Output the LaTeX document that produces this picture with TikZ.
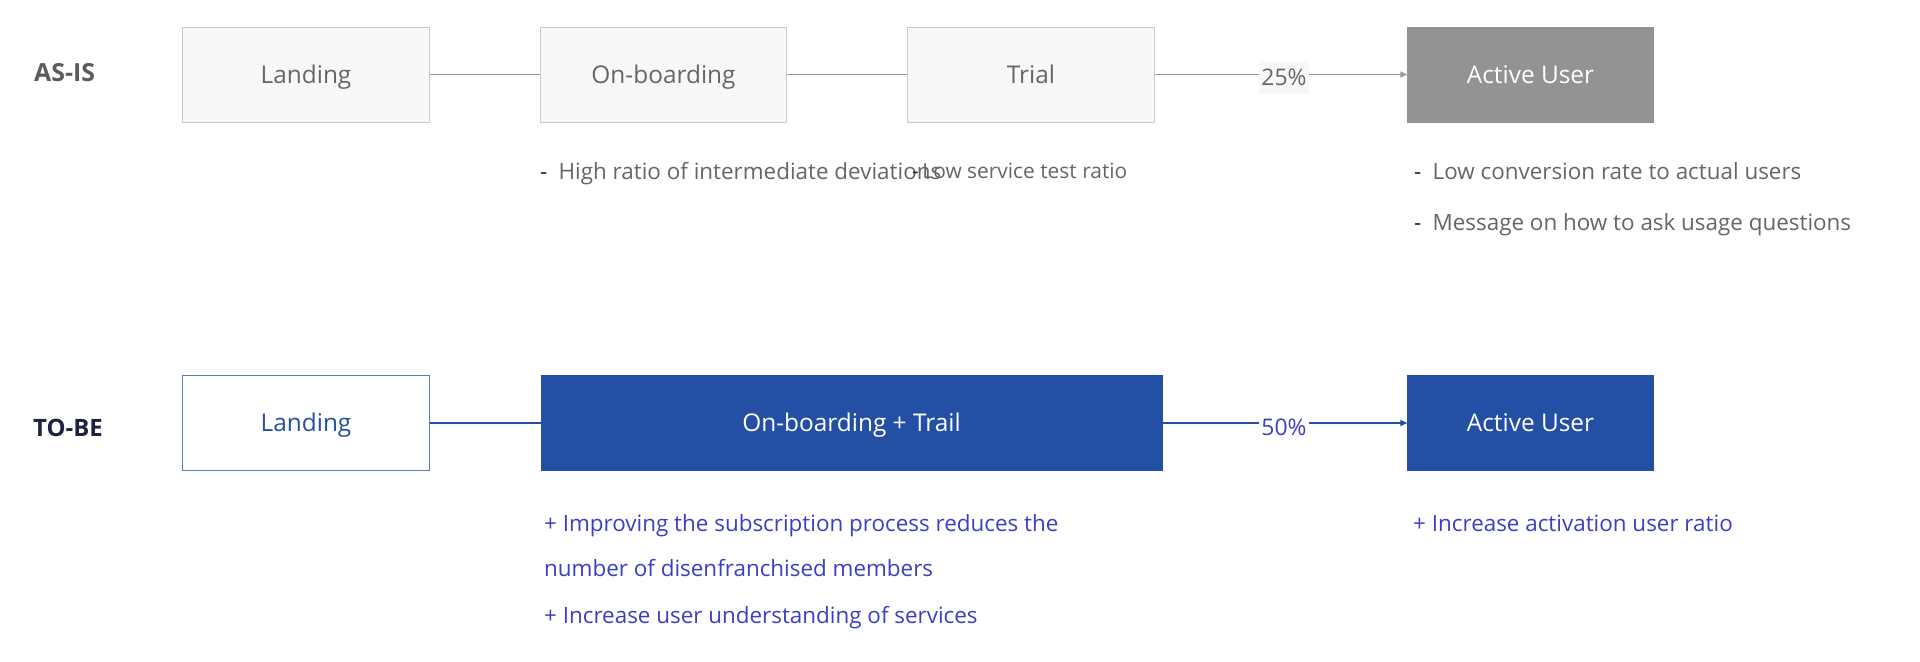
\documentclass[tikz,border=0pt]{standalone}
\usepackage{fontspec}
\setmainfont{Open Sans}
\usetikzlibrary{arrows.meta}
\definecolor{boxfill}{HTML}{F8F8F8}
\definecolor{boxline}{HTML}{C9C9C9}
\definecolor{grayuser}{HTML}{939393}
\definecolor{grayline}{HTML}{9A9A9A}
\definecolor{graytext}{HTML}{666666}
\definecolor{tobeblue}{HTML}{2350A5}
\definecolor{noteblue}{HTML}{3A40C4}
\definecolor{navy}{HTML}{1C2340}
\tikzset{
  asis/.style={draw=boxline,fill=boxfill,text=graytext,minimum height=95,inner sep=0,
    text height=17.5bp,text depth=0bp,font=\fontsize{24.5}{29}\selectfont},
  tobe/.style={draw=tobeblue,fill=tobeblue,text=white,minimum height=95,inner sep=0,
    text height=17.5bp,text depth=0bp,font=\fontsize{24.5}{29}\selectfont},
  rowlabel/.style={anchor=west,inner sep=0,font=\fontsize{25}{30}\selectfont\bfseries},
  note/.style={anchor=base west,inner sep=0,font=\fontsize{22.5}{27}\selectfont},
  pct/.style={inner sep=2,font=\fontsize{23}{27}\selectfont},
}
\begin{document}
\begin{tikzpicture}[x=1bp,y=-1bp]
  \useasboundingbox[fill=white] (0,0) rectangle (1920,662);
  % AS-IS
  \node[rowlabel,text=graytext!90!black] (asis) at (34,73) {AS-IS};
  \node[asis,minimum width=248] (land1) at (306,74.5) {Landing};
  \node[asis,minimum width=247] (onb1) at (663.5,74.5) {On-boarding};
  \node[asis,minimum width=248] (trial1) at (1031,74.5) {Trial};
  \node[asis,fill=grayuser,draw=grayuser,text=white,minimum width=247] (user1) at (1530.5,74.5) {Active User};
  \node[pct,fill=boxfill,text=graytext,minimum width=48,minimum height=33] (p1) at (1284,77.5) {25\%};
  \draw[grayline,line width=1.6] (land1) -- (onb1);
  \draw[grayline,line width=1.6] (onb1) -- (trial1);
  \draw[grayline,line width=1.6] (trial1.east) -- (p1.west|-trial1.east);
  \draw[grayline,line width=1.6,-{Triangle[length=7,width=6]}] (p1.east|-user1.west) -- (user1.west);
  \node[note,text=graytext] (n1) at (540,179.5) {\textcolor{navy}{-}\enspace High ratio of intermediate deviations};
  \node[note,text=graytext,font=\fontsize{21}{25}\selectfont] (n2) at (912,179) {\textcolor{navy}{-}\,Low service test ratio};
  \node[note,text=graytext] (n3) at (1414,179.5) {\textcolor{navy}{-}\enspace Low conversion rate to actual users};
  \node[note,text=graytext] (n4) at (1414,230) {\textcolor{navy}{-}\enspace Message on how to ask usage questions};
  % TO-BE
  \node[rowlabel,text=navy,font=\fontsize{24}{29}\selectfont\bfseries] (tobe) at (33,428) {TO-BE};
  \node[tobe,fill=white,draw=tobeblue!75,text=tobeblue,minimum width=248] (land2) at (306,423) {Landing};
  \node[tobe,minimum width=623] (onb2) at (851.5,423) {On-boarding + Trail};
  \node[tobe,minimum width=247] (user2) at (1530.5,423) {Active User};
  \node[pct,fill=white,text=noteblue] (p2) at (1284,427) {50\%};
  \draw[tobeblue,line width=1.8] (land2) -- (onb2);
  \draw[tobeblue,line width=1.8] (onb2.east) -- (p2.west|-onb2.east);
  \draw[tobeblue,line width=1.8,-{Triangle[length=7,width=6]}] (p2.east|-user2.west) -- (user2.west);
  \node[note,text=noteblue] (n5) at (544,531) {+ Improving the subscription process reduces the};
  \node[note,text=noteblue] (n6) at (544,576) {number of disenfranchised members};
  \node[note,text=noteblue] (n7) at (544,623) {+ Increase user understanding of services};
  \node[note,text=noteblue] (n8) at (1413,531) {+ Increase activation user ratio};
\end{tikzpicture}
\end{document}
